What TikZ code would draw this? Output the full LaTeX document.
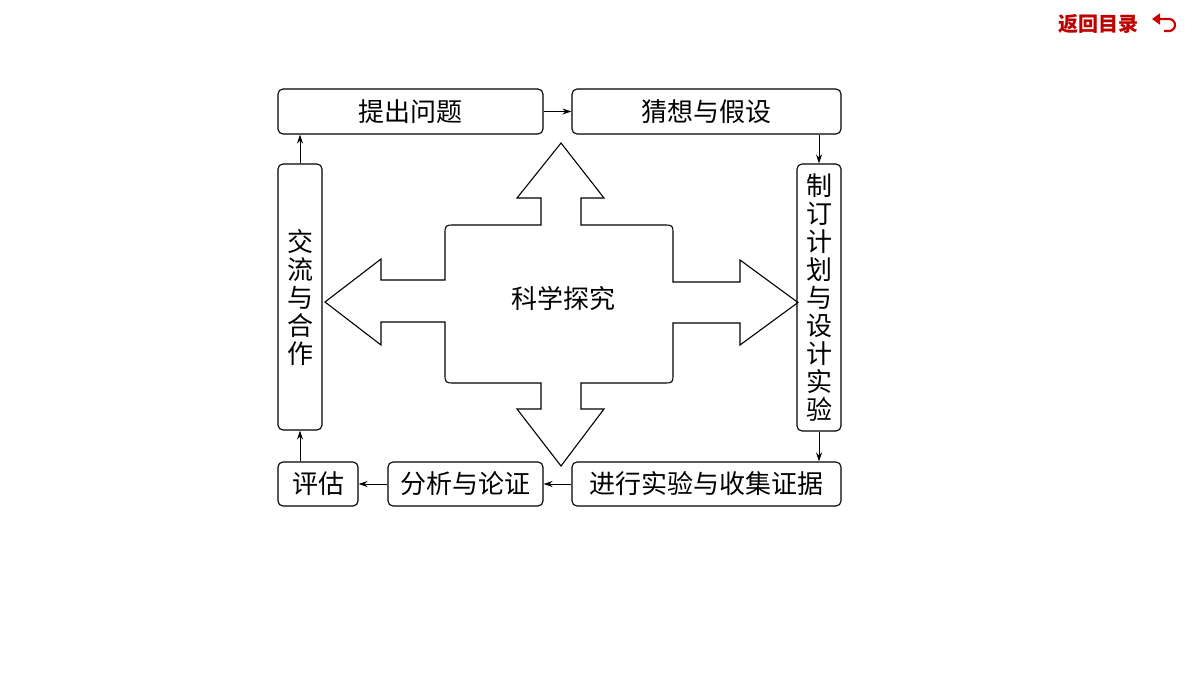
\documentclass[tikz,border=0pt]{standalone}
\usepackage{fontspec}
\newfontfamily\cjk{Noto Sans CJK SC}
\usetikzlibrary{arrows.meta}
\begin{document}
\begin{tikzpicture}[x=1pt,y=-1pt,
  box/.style={draw,line width=1.1pt,rounded corners=5pt,inner sep=0pt},
  lab/.style={font=\cjk\fontsize{26}{28}\selectfont},
  conn/.style={-{Stealth[length=9pt,width=6pt]},line width=0.9pt}]
\useasboundingbox (0,0) rectangle (1200,675);
\node[box,minimum width=265pt,minimum height=45pt,lab] (q) at (410.5,111.5) {提出问题};
\node[box,minimum width=269pt,minimum height=45pt,lab] (h) at (706.5,111.5) {猜想与假设};
\node[box,minimum width=44pt,minimum height=267pt,lab,align=center] (p) at (819,297.5) {制\\订\\计\\划\\与\\设\\计\\实\\验};
\node[box,minimum width=44pt,minimum height=266pt,lab,align=center] (c) at (300,297) {交\\流\\与\\合\\作};
\node[box,minimum width=80pt,minimum height=44pt,lab] (e) at (318,484) {评估};
\node[box,minimum width=155pt,minimum height=44pt,lab] (a) at (465.5,484) {分析与论证};
\node[box,minimum width=269pt,minimum height=44pt,lab] (x) at (706.5,484) {进行实验与收集证据};
\draw[conn] (q.east) -- (h.west);
\draw[conn] (h.south -| p) -- (p.north);
\draw[conn] (p.south) -- (x.north -| p);
\draw[conn] (x.west) -- (a.east);
\draw[conn] (a.west) -- (e.east);
\draw[conn] (e.north -| c) -- (c.south);
\draw[conn] (c.north) -- (q.south -| c);
% cross
\draw[line width=1.1pt,line join=miter]
 (541,225) -- (541,198) -- (517,198) -- (561,143) -- (604,198) -- (581,198) -- (581,225)
 -- (663,225) .. controls (673,225) .. (673,235) -- (673,282) -- (740,282) -- (740,260) -- (798,302.5)
 -- (740,345) -- (740,323) -- (673,323) -- (673,373) .. controls (673,383) .. (663,383)
 -- (581,383) -- (581,409) -- (604,409) -- (561,466) -- (517,409) -- (541,409) -- (541,383)
 -- (455,383) .. controls (445,383) .. (445,373) -- (445,322) -- (381,322) -- (381,345) -- (325,302)
 -- (381,259) -- (381,280) -- (445,280) -- (445,235) .. controls (445,225) .. (455,225) -- cycle;
\node[lab] (t) at (563,298) {科学探究};
% return link
\node[font=\cjk\bfseries\fontsize{20}{22}\selectfont,text=red!75!black,anchor=east] (r) at (1142,24) {返回目录};
\draw[red!80!black,line width=2.2pt,-{Triangle[length=8pt,width=11pt]}] (1164,31) -- (1169,31) arc[start angle=-90,end angle=90,radius=6pt] -- (1152,19);
\end{tikzpicture}
\end{document}
